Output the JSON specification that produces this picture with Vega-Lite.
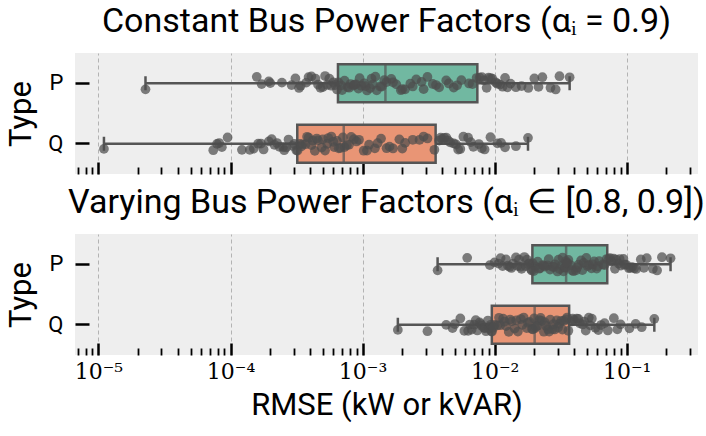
{
  "$schema": "https://vega.github.io/schema/vega-lite/v6.json",
  "padding": {"left": 5, "top": 5, "right": 0, "bottom": 8},
  "spacing": 10,
  "config": {
    "view": {"fill": "#eeeeee", "stroke": null},
    "font": "Roboto",
    "title": {"font": "Roboto", "fontSize": 34, "fontWeight": "normal", "color": "#000000", "baseline": "alphabetic", "offset": 14, "anchor": "middle"}
  },
  "datasets": {
    "rmse": [
      {"c":"C","t":"P","v":2.27e-5},{"c":"C","t":"P","v":1.58e-4},{"c":"C","t":"P","v":1.72e-4},{"c":"C","t":"P","v":1.95e-4},
      {"c":"C","t":"P","v":2.45e-4},{"c":"C","t":"P","v":2.9e-4},{"c":"C","t":"P","v":3.1e-4},{"c":"C","t":"P","v":3.4e-4},
      {"c":"C","t":"P","v":3.75e-4},{"c":"C","t":"P","v":4.1e-4},{"c":"C","t":"P","v":4.4e-4},{"c":"C","t":"P","v":4.8e-4},
      {"c":"C","t":"P","v":5.2e-4},{"c":"C","t":"P","v":5.6e-4},{"c":"C","t":"P","v":6.0e-4},{"c":"C","t":"P","v":6.4e-4},
      {"c":"C","t":"P","v":6.55e-4},{"c":"C","t":"P","v":6.9e-4},{"c":"C","t":"P","v":7.3e-4},{"c":"C","t":"P","v":7.7e-4},
      {"c":"C","t":"P","v":8.1e-4},{"c":"C","t":"P","v":8.5e-4},{"c":"C","t":"P","v":8.9e-4},{"c":"C","t":"P","v":9.3e-4},
      {"c":"C","t":"P","v":9.8e-4},{"c":"C","t":"P","v":1.03e-3},{"c":"C","t":"P","v":1.08e-3},{"c":"C","t":"P","v":1.14e-3},
      {"c":"C","t":"P","v":1.2e-3},{"c":"C","t":"P","v":1.28e-3},{"c":"C","t":"P","v":1.36e-3},{"c":"C","t":"P","v":1.46e-3},
      {"c":"C","t":"P","v":1.52e-3},{"c":"C","t":"P","v":1.65e-3},{"c":"C","t":"P","v":1.8e-3},{"c":"C","t":"P","v":1.95e-3},
      {"c":"C","t":"P","v":2.1e-3},{"c":"C","t":"P","v":2.3e-3},{"c":"C","t":"P","v":2.55e-3},{"c":"C","t":"P","v":2.8e-3},
      {"c":"C","t":"P","v":3.1e-3},{"c":"C","t":"P","v":3.4e-3},{"c":"C","t":"P","v":3.8e-3},{"c":"C","t":"P","v":4.3e-3},
      {"c":"C","t":"P","v":4.9e-3},{"c":"C","t":"P","v":5.6e-3},{"c":"C","t":"P","v":6.4e-3},{"c":"C","t":"P","v":7.3e-3},
      {"c":"C","t":"P","v":7.7e-3},{"c":"C","t":"P","v":8.3e-3},{"c":"C","t":"P","v":9.0e-3},{"c":"C","t":"P","v":9.6e-3},
      {"c":"C","t":"P","v":1.02e-2},{"c":"C","t":"P","v":1.1e-2},{"c":"C","t":"P","v":1.2e-2},{"c":"C","t":"P","v":1.32e-2},
      {"c":"C","t":"P","v":1.45e-2},{"c":"C","t":"P","v":1.6e-2},{"c":"C","t":"P","v":1.8e-2},{"c":"C","t":"P","v":2.0e-2},
      {"c":"C","t":"P","v":2.3e-2},{"c":"C","t":"P","v":2.65e-2},{"c":"C","t":"P","v":3.1e-2},{"c":"C","t":"P","v":3.7e-2},
      {"c":"C","t":"P","v":3.9e-4},{"c":"C","t":"P","v":4.6e-4},{"c":"C","t":"P","v":5.0e-4},{"c":"C","t":"P","v":5.4e-4},
      {"c":"C","t":"P","v":5.8e-4},{"c":"C","t":"P","v":6.2e-4},{"c":"C","t":"P","v":2.0e-4},{"c":"C","t":"P","v":3.3e-4},
      {"c":"C","t":"P","v":7.0e-4},{"c":"C","t":"P","v":7.9e-4},{"c":"C","t":"P","v":8.7e-4},{"c":"C","t":"P","v":9.5e-4},
      {"c":"C","t":"P","v":1.05e-3},{"c":"C","t":"P","v":1.17e-3},{"c":"C","t":"P","v":1.25e-3},{"c":"C","t":"P","v":1.4e-3},
      {"c":"C","t":"P","v":1.7e-3},{"c":"C","t":"P","v":2.0e-3},{"c":"C","t":"P","v":2.4e-3},{"c":"C","t":"P","v":2.9e-3},
      {"c":"C","t":"P","v":3.6e-3},{"c":"C","t":"P","v":4.5e-3},{"c":"C","t":"P","v":5.2e-3},{"c":"C","t":"P","v":6.8e-3},
      {"c":"C","t":"P","v":8.0e-3},{"c":"C","t":"P","v":8.7e-3},{"c":"C","t":"P","v":9.3e-3},{"c":"C","t":"P","v":1.05e-2},
      {"c":"C","t":"P","v":1.15e-2},{"c":"C","t":"P","v":1.25e-2},{"c":"C","t":"P","v":2.15e-2},{"c":"C","t":"P","v":2.9e-2},

      {"c":"C","t":"Q","v":1.1e-5},{"c":"C","t":"Q","v":7.4e-5},{"c":"C","t":"Q","v":7.9e-5},{"c":"C","t":"Q","v":8.6e-5},
      {"c":"C","t":"Q","v":9.5e-5},{"c":"C","t":"Q","v":1.22e-4},{"c":"C","t":"Q","v":1.5e-4},{"c":"C","t":"Q","v":1.62e-4},
      {"c":"C","t":"Q","v":1.78e-4},{"c":"C","t":"Q","v":1.95e-4},{"c":"C","t":"Q","v":2.15e-4},{"c":"C","t":"Q","v":2.35e-4},
      {"c":"C","t":"Q","v":2.55e-4},{"c":"C","t":"Q","v":2.75e-4},{"c":"C","t":"Q","v":2.95e-4},{"c":"C","t":"Q","v":3.15e-4},
      {"c":"C","t":"Q","v":3.22e-4},{"c":"C","t":"Q","v":3.35e-4},{"c":"C","t":"Q","v":3.5e-4},{"c":"C","t":"Q","v":3.7e-4},
      {"c":"C","t":"Q","v":3.9e-4},{"c":"C","t":"Q","v":4.1e-4},{"c":"C","t":"Q","v":4.35e-4},{"c":"C","t":"Q","v":4.6e-4},
      {"c":"C","t":"Q","v":4.9e-4},{"c":"C","t":"Q","v":5.2e-4},{"c":"C","t":"Q","v":5.5e-4},{"c":"C","t":"Q","v":5.8e-4},
      {"c":"C","t":"Q","v":6.1e-4},{"c":"C","t":"Q","v":6.4e-4},{"c":"C","t":"Q","v":6.8e-4},{"c":"C","t":"Q","v":7.1e-4},
      {"c":"C","t":"Q","v":7.3e-4},{"c":"C","t":"Q","v":7.9e-4},{"c":"C","t":"Q","v":8.6e-4},{"c":"C","t":"Q","v":9.4e-4},
      {"c":"C","t":"Q","v":1.02e-3},{"c":"C","t":"Q","v":1.12e-3},{"c":"C","t":"Q","v":1.24e-3},{"c":"C","t":"Q","v":1.38e-3},
      {"c":"C","t":"Q","v":1.52e-3},{"c":"C","t":"Q","v":1.7e-3},{"c":"C","t":"Q","v":1.9e-3},{"c":"C","t":"Q","v":2.1e-3},
      {"c":"C","t":"Q","v":2.4e-3},{"c":"C","t":"Q","v":2.7e-3},{"c":"C","t":"Q","v":3.1e-3},{"c":"C","t":"Q","v":3.5e-3},
      {"c":"C","t":"Q","v":3.8e-3},{"c":"C","t":"Q","v":4.0e-3},{"c":"C","t":"Q","v":4.3e-3},{"c":"C","t":"Q","v":4.6e-3},
      {"c":"C","t":"Q","v":4.9e-3},{"c":"C","t":"Q","v":5.3e-3},{"c":"C","t":"Q","v":5.8e-3},{"c":"C","t":"Q","v":6.3e-3},
      {"c":"C","t":"Q","v":6.9e-3},{"c":"C","t":"Q","v":7.6e-3},{"c":"C","t":"Q","v":8.4e-3},{"c":"C","t":"Q","v":9.3e-3},
      {"c":"C","t":"Q","v":1.05e-2},{"c":"C","t":"Q","v":1.2e-2},{"c":"C","t":"Q","v":1.45e-2},{"c":"C","t":"Q","v":1.79e-2},
      {"c":"C","t":"Q","v":8.2e-5},{"c":"C","t":"Q","v":1.4e-4},{"c":"C","t":"Q","v":1.7e-4},{"c":"C","t":"Q","v":2.05e-4},
      {"c":"C","t":"Q","v":2.25e-4},{"c":"C","t":"Q","v":2.5e-4},{"c":"C","t":"Q","v":2.65e-4},{"c":"C","t":"Q","v":3.05e-4},
      {"c":"C","t":"Q","v":3.45e-4},{"c":"C","t":"Q","v":3.8e-4},{"c":"C","t":"Q","v":4.2e-4},{"c":"C","t":"Q","v":4.5e-4},
      {"c":"C","t":"Q","v":5.0e-4},{"c":"C","t":"Q","v":5.4e-4},{"c":"C","t":"Q","v":6.0e-4},{"c":"C","t":"Q","v":6.6e-4},
      {"c":"C","t":"Q","v":7.6e-4},{"c":"C","t":"Q","v":8.2e-4},{"c":"C","t":"Q","v":9.0e-4},{"c":"C","t":"Q","v":1.08e-3},
      {"c":"C","t":"Q","v":1.3e-3},{"c":"C","t":"Q","v":1.6e-3},{"c":"C","t":"Q","v":2.0e-3},{"c":"C","t":"Q","v":2.9e-3},
      {"c":"C","t":"Q","v":3.9e-3},{"c":"C","t":"Q","v":4.15e-3},{"c":"C","t":"Q","v":4.45e-3},{"c":"C","t":"Q","v":5.1e-3},
      {"c":"C","t":"Q","v":5.5e-3},{"c":"C","t":"Q","v":6.6e-3},{"c":"C","t":"Q","v":8.0e-3},{"c":"C","t":"Q","v":1.12e-2},

      {"c":"V","t":"P","v":3.7e-3},{"c":"V","t":"P","v":6.2e-3},{"c":"V","t":"P","v":9.2e-3},{"c":"V","t":"P","v":1.0e-2},
      {"c":"V","t":"P","v":1.07e-2},{"c":"V","t":"P","v":1.15e-2},{"c":"V","t":"P","v":1.22e-2},{"c":"V","t":"P","v":1.3e-2},
      {"c":"V","t":"P","v":1.38e-2},{"c":"V","t":"P","v":1.45e-2},{"c":"V","t":"P","v":1.53e-2},{"c":"V","t":"P","v":1.6e-2},
      {"c":"V","t":"P","v":1.68e-2},{"c":"V","t":"P","v":1.76e-2},{"c":"V","t":"P","v":1.84e-2},{"c":"V","t":"P","v":1.91e-2},
      {"c":"V","t":"P","v":0.0194},{"c":"V","t":"P","v":0.0203},{"c":"V","t":"P","v":0.0212},{"c":"V","t":"P","v":0.0221},
      {"c":"V","t":"P","v":0.0231},{"c":"V","t":"P","v":0.0241},{"c":"V","t":"P","v":0.0252},{"c":"V","t":"P","v":0.0263},
      {"c":"V","t":"P","v":0.0275},{"c":"V","t":"P","v":0.0287},{"c":"V","t":"P","v":0.0299},{"c":"V","t":"P","v":0.0311},
      {"c":"V","t":"P","v":0.0322},{"c":"V","t":"P","v":0.0332},{"c":"V","t":"P","v":0.0340},{"c":"V","t":"P","v":0.0346},
      {"c":"V","t":"P","v":0.0350},{"c":"V","t":"P","v":0.0362},{"c":"V","t":"P","v":0.0378},{"c":"V","t":"P","v":0.0395},
      {"c":"V","t":"P","v":0.0413},{"c":"V","t":"P","v":0.0432},{"c":"V","t":"P","v":0.0452},{"c":"V","t":"P","v":0.0473},
      {"c":"V","t":"P","v":0.0495},{"c":"V","t":"P","v":0.0518},{"c":"V","t":"P","v":0.0542},{"c":"V","t":"P","v":0.0567},
      {"c":"V","t":"P","v":0.0593},{"c":"V","t":"P","v":0.0620},{"c":"V","t":"P","v":0.0660},{"c":"V","t":"P","v":0.0706},
      {"c":"V","t":"P","v":0.0734},{"c":"V","t":"P","v":0.0765},{"c":"V","t":"P","v":0.0798},{"c":"V","t":"P","v":0.0832},
      {"c":"V","t":"P","v":0.0868},{"c":"V","t":"P","v":0.0905},{"c":"V","t":"P","v":0.0945},{"c":"V","t":"P","v":0.099},
      {"c":"V","t":"P","v":0.104},{"c":"V","t":"P","v":0.110},{"c":"V","t":"P","v":0.118},{"c":"V","t":"P","v":0.128},
      {"c":"V","t":"P","v":0.142},{"c":"V","t":"P","v":0.158},{"c":"V","t":"P","v":0.185},{"c":"V","t":"P","v":0.215},
      {"c":"V","t":"P","v":1.11e-2},{"c":"V","t":"P","v":1.26e-2},{"c":"V","t":"P","v":1.34e-2},{"c":"V","t":"P","v":1.49e-2},
      {"c":"V","t":"P","v":1.57e-2},{"c":"V","t":"P","v":1.72e-2},{"c":"V","t":"P","v":1.8e-2},{"c":"V","t":"P","v":1.88e-2},
      {"c":"V","t":"P","v":0.0198},{"c":"V","t":"P","v":0.0217},{"c":"V","t":"P","v":0.0236},{"c":"V","t":"P","v":0.0257},
      {"c":"V","t":"P","v":0.0281},{"c":"V","t":"P","v":0.0305},{"c":"V","t":"P","v":0.0327},{"c":"V","t":"P","v":0.0343},
      {"c":"V","t":"P","v":0.0356},{"c":"V","t":"P","v":0.0386},{"c":"V","t":"P","v":0.0422},{"c":"V","t":"P","v":0.0462},
      {"c":"V","t":"P","v":0.0506},{"c":"V","t":"P","v":0.0555},{"c":"V","t":"P","v":0.0606},{"c":"V","t":"P","v":0.0680},
      {"c":"V","t":"P","v":0.0750},{"c":"V","t":"P","v":0.0815},{"c":"V","t":"P","v":0.0885},{"c":"V","t":"P","v":0.0965},
      {"c":"V","t":"P","v":0.107},{"c":"V","t":"P","v":0.114},{"c":"V","t":"P","v":0.135},{"c":"V","t":"P","v":0.170},

      {"c":"V","t":"Q","v":1.85e-3},{"c":"V","t":"Q","v":3.1e-3},{"c":"V","t":"Q","v":4.3e-3},{"c":"V","t":"Q","v":4.8e-3},
      {"c":"V","t":"Q","v":5.5e-3},{"c":"V","t":"Q","v":6.3e-3},{"c":"V","t":"Q","v":6.7e-3},{"c":"V","t":"Q","v":7.0e-3},
      {"c":"V","t":"Q","v":7.4e-3},{"c":"V","t":"Q","v":7.7e-3},{"c":"V","t":"Q","v":8.0e-3},{"c":"V","t":"Q","v":8.3e-3},
      {"c":"V","t":"Q","v":8.6e-3},{"c":"V","t":"Q","v":8.9e-3},{"c":"V","t":"Q","v":9.2e-3},{"c":"V","t":"Q","v":9.45e-3},
      {"c":"V","t":"Q","v":9.55e-3},{"c":"V","t":"Q","v":0.0100},{"c":"V","t":"Q","v":0.0105},{"c":"V","t":"Q","v":0.0110},
      {"c":"V","t":"Q","v":0.0116},{"c":"V","t":"Q","v":0.0122},{"c":"V","t":"Q","v":0.0128},{"c":"V","t":"Q","v":0.0135},
      {"c":"V","t":"Q","v":0.0142},{"c":"V","t":"Q","v":0.0150},{"c":"V","t":"Q","v":0.0158},{"c":"V","t":"Q","v":0.0166},
      {"c":"V","t":"Q","v":0.0175},{"c":"V","t":"Q","v":0.0184},{"c":"V","t":"Q","v":0.0192},{"c":"V","t":"Q","v":0.0199},
      {"c":"V","t":"Q","v":0.0203},{"c":"V","t":"Q","v":0.0211},{"c":"V","t":"Q","v":0.0219},{"c":"V","t":"Q","v":0.0227},
      {"c":"V","t":"Q","v":0.0236},{"c":"V","t":"Q","v":0.0245},{"c":"V","t":"Q","v":0.0254},{"c":"V","t":"Q","v":0.0264},
      {"c":"V","t":"Q","v":0.0274},{"c":"V","t":"Q","v":0.0285},{"c":"V","t":"Q","v":0.0296},{"c":"V","t":"Q","v":0.0308},
      {"c":"V","t":"Q","v":0.0320},{"c":"V","t":"Q","v":0.0333},{"c":"V","t":"Q","v":0.0347},{"c":"V","t":"Q","v":0.0362},
      {"c":"V","t":"Q","v":0.0381},{"c":"V","t":"Q","v":0.0400},{"c":"V","t":"Q","v":0.0420},{"c":"V","t":"Q","v":0.0442},
      {"c":"V","t":"Q","v":0.0465},{"c":"V","t":"Q","v":0.0490},{"c":"V","t":"Q","v":0.0517},{"c":"V","t":"Q","v":0.0545},
      {"c":"V","t":"Q","v":0.0580},{"c":"V","t":"Q","v":0.0640},{"c":"V","t":"Q","v":0.0720},{"c":"V","t":"Q","v":0.0800},
      {"c":"V","t":"Q","v":0.0900},{"c":"V","t":"Q","v":0.1050},{"c":"V","t":"Q","v":0.1300},{"c":"V","t":"Q","v":0.1620},
      {"c":"V","t":"Q","v":5.0e-3},{"c":"V","t":"Q","v":5.9e-3},{"c":"V","t":"Q","v":6.5e-3},{"c":"V","t":"Q","v":7.2e-3},
      {"c":"V","t":"Q","v":7.85e-3},{"c":"V","t":"Q","v":8.45e-3},{"c":"V","t":"Q","v":9.05e-3},{"c":"V","t":"Q","v":9.35e-3},
      {"c":"V","t":"Q","v":0.0098},{"c":"V","t":"Q","v":0.0108},{"c":"V","t":"Q","v":0.0119},{"c":"V","t":"Q","v":0.0131},
      {"c":"V","t":"Q","v":0.0146},{"c":"V","t":"Q","v":0.0162},{"c":"V","t":"Q","v":0.0179},{"c":"V","t":"Q","v":0.0195},
      {"c":"V","t":"Q","v":0.0207},{"c":"V","t":"Q","v":0.0223},{"c":"V","t":"Q","v":0.0240},{"c":"V","t":"Q","v":0.0259},
      {"c":"V","t":"Q","v":0.0279},{"c":"V","t":"Q","v":0.0302},{"c":"V","t":"Q","v":0.0326},{"c":"V","t":"Q","v":0.0354},
      {"c":"V","t":"Q","v":0.0390},{"c":"V","t":"Q","v":0.0431},{"c":"V","t":"Q","v":0.0477},{"c":"V","t":"Q","v":0.0530},
      {"c":"V","t":"Q","v":0.0610},{"c":"V","t":"Q","v":0.0680},{"c":"V","t":"Q","v":0.0850},{"c":"V","t":"Q","v":0.1170}
    ]
  },
  "vconcat": [
    {
      "title": {"text": "Constant Bus Power Factors (αᵢ = 0.9)"},
      "width": 623,
      "height": 121,
      "resolve": {"scale": {"y": "independent"}},
      "encoding": {
        "x": {
          "field": "v", "type": "quantitative",
          "scale": {"type": "log", "domain": [6.64e-6, 0.347], "nice": false},
          "axis": {
            "title": null,
            "values": [7e-6,8e-6,9e-6,1e-5,2e-5,3e-5,4e-5,5e-5,6e-5,7e-5,8e-5,9e-5,1e-4,2e-4,3e-4,4e-4,5e-4,6e-4,7e-4,8e-4,9e-4,1e-3,2e-3,3e-3,4e-3,5e-3,6e-3,7e-3,8e-3,9e-3,1e-2,2e-2,3e-2,4e-2,5e-2,6e-2,7e-2,8e-2,9e-2,1e-1,2e-1,3e-1],
            "domain": false,
            "grid": true,
            "gridColor": "#b3b3b3",
            "gridDash": [4, 3],
            "gridWidth": 1,
            "gridOpacity": {"condition": {"test": "abs(log(datum.value)/LN10 - round(log(datum.value)/LN10)) < 0.001", "value": 1}, "value": 0},
            "tickColor": "#000000",
            "tickSize": {"condition": {"test": "abs(log(datum.value)/LN10 - round(log(datum.value)/LN10)) < 0.001", "value": -12}, "value": -7},
            "tickWidth": {"condition": {"test": "abs(log(datum.value)/LN10 - round(log(datum.value)/LN10)) < 0.001", "value": 2.5}, "value": 1.8},
            "labels": false
          }
        }
      },
      "layer": [
        {
          "data": {"name": "rmse"},
          "transform": [{"filter": "datum.c == 'C'"}],
          "mark": {"type": "boxplot", "extent": "min-max", "size": 38,
            "box": {"stroke": "#555555", "strokeWidth": 2.5},
            "median": {"color": "#555555", "thickness": 2.5},
            "rule": {"stroke": "#555555", "strokeWidth": 2.5},
            "ticks": {"color": "#555555", "size": 14, "thickness": 2.5}},
          "encoding": {
            "y": {
              "field": "t", "type": "nominal",
              "scale": {"domain": ["P", "Q"], "paddingInner": 0, "paddingOuter": 0},
              "axis": {
                "title": "Type", "titleFont": "Roboto", "titleFontSize": 31, "titleFontWeight": "normal", "titleColor": "#000000", "titlePadding": 10,
                "labelFont": "Roboto", "labelFontSize": 22, "labelColor": "#000000", "labelPadding": 26, "labelAngle": 0,
                "tickSize": -14, "tickWidth": 2.5, "tickColor": "#000000", "domain": false, "grid": false
              }
            },
            "color": {"field": "t", "type": "nominal", "scale": {"domain": ["P", "Q"], "range": ["#71b8a1", "#e99575"]}, "legend": null}
          }
        },
        {
          "data": {"name": "rmse"},
          "transform": [
            {"filter": "datum.c == 'C'"},
            {"window": [{"op": "row_number", "as": "i"}]},
            {"calculate": "(abs(sin(datum.i * 12.9898) * 43758.5453) % 1) - 0.5", "as": "j"}
          ],
          "mark": {"type": "circle", "size": 95, "color": "#4d4d4d", "opacity": 0.72},
          "encoding": {
            "y": {"field": "t", "type": "nominal", "scale": {"domain": ["P", "Q"], "paddingInner": 0, "paddingOuter": 0}, "axis": null},
            "yOffset": {"field": "j", "type": "quantitative", "scale": {"domain": [-0.5, 0.5], "range": [23, 37.5]}}
          }
        },
        {
          "data": {"values": [{}]},
          "mark": {"type": "rule", "color": "#bdbdbd", "strokeWidth": 3},
          "encoding": {
            "x": {"datum": 1e-5, "type": "quantitative"},
            "x2": {"datum": 0.1},
            "y": {"datum": 0, "type": "quantitative", "scale": {"domain": [0, 1]}, "axis": null}
          }
        }
      ]
    },
    {
      "title": {"text": "Varying Bus Power Factors (αᵢ ∈ [0.8, 0.9])"},
      "width": 623,
      "height": 121,
      "resolve": {"scale": {"y": "independent"}},
      "encoding": {
        "x": {
          "field": "v", "type": "quantitative",
          "scale": {"type": "log", "domain": [6.64e-6, 0.347], "nice": false},
          "axis": {
            "title": "RMSE (kW or kVAR)", "titleFont": "Roboto", "titleFontSize": 31, "titleFontWeight": "normal", "titleColor": "#000000", "titlePadding": 3,
            "values": [7e-6,8e-6,9e-6,1e-5,2e-5,3e-5,4e-5,5e-5,6e-5,7e-5,8e-5,9e-5,1e-4,2e-4,3e-4,4e-4,5e-4,6e-4,7e-4,8e-4,9e-4,1e-3,2e-3,3e-3,4e-3,5e-3,6e-3,7e-3,8e-3,9e-3,1e-2,2e-2,3e-2,4e-2,5e-2,6e-2,7e-2,8e-2,9e-2,1e-1,2e-1,3e-1],
            "domain": false,
            "grid": true,
            "gridColor": "#b3b3b3",
            "gridDash": [4, 3],
            "gridWidth": 1,
            "gridOpacity": {"condition": {"test": "abs(log(datum.value)/LN10 - round(log(datum.value)/LN10)) < 0.001", "value": 1}, "value": 0},
            "tickColor": "#000000",
            "tickSize": {"condition": {"test": "abs(log(datum.value)/LN10 - round(log(datum.value)/LN10)) < 0.001", "value": -12}, "value": -7},
            "tickWidth": {"condition": {"test": "abs(log(datum.value)/LN10 - round(log(datum.value)/LN10)) < 0.001", "value": 2.5}, "value": 1.8},
            "labels": true,
            "labelExpr": "datum.value > 0.09 && datum.value < 0.11 ? '10⁻¹' : datum.value > 0.009 && datum.value < 0.011 ? '10⁻²' : datum.value > 0.0009 && datum.value < 0.0011 ? '10⁻³' : datum.value > 0.00009 && datum.value < 0.00011 ? '10⁻⁴' : datum.value > 0.000009 && datum.value < 0.000011 ? '10⁻⁵' : ''",
            "labelFont": "DejaVu Serif",
            "labelFontSize": 22,
            "labelColor": "#000000",
            "labelPadding": 18,
            "labelFlush": false,
            "labelOverlap": false,
            "labelBound": false
          }
        }
      },
      "layer": [
        {
          "data": {"name": "rmse"},
          "transform": [{"filter": "datum.c == 'V'"}],
          "mark": {"type": "boxplot", "extent": "min-max", "size": 38,
            "box": {"stroke": "#555555", "strokeWidth": 2.5},
            "median": {"color": "#555555", "thickness": 2.5},
            "rule": {"stroke": "#555555", "strokeWidth": 2.5},
            "ticks": {"color": "#555555", "size": 14, "thickness": 2.5}},
          "encoding": {
            "y": {
              "field": "t", "type": "nominal",
              "scale": {"domain": ["P", "Q"], "paddingInner": 0, "paddingOuter": 0},
              "axis": {
                "title": "Type", "titleFont": "Roboto", "titleFontSize": 31, "titleFontWeight": "normal", "titleColor": "#000000", "titlePadding": 10,
                "labelFont": "Roboto", "labelFontSize": 22, "labelColor": "#000000", "labelPadding": 26, "labelAngle": 0,
                "tickSize": -14, "tickWidth": 2.5, "tickColor": "#000000", "domain": false, "grid": false
              }
            },
            "color": {"field": "t", "type": "nominal", "scale": {"domain": ["P", "Q"], "range": ["#71b8a1", "#e99575"]}, "legend": null}
          }
        },
        {
          "data": {"name": "rmse"},
          "transform": [
            {"filter": "datum.c == 'V'"},
            {"window": [{"op": "row_number", "as": "i"}]},
            {"calculate": "(abs(sin(datum.i * 12.9898) * 43758.5453) % 1) - 0.5", "as": "j"}
          ],
          "mark": {"type": "circle", "size": 95, "color": "#4d4d4d", "opacity": 0.72},
          "encoding": {
            "y": {"field": "t", "type": "nominal", "scale": {"domain": ["P", "Q"], "paddingInner": 0, "paddingOuter": 0}, "axis": null},
            "yOffset": {"field": "j", "type": "quantitative", "scale": {"domain": [-0.5, 0.5], "range": [23, 37.5]}}
          }
        },
        {
          "data": {"values": [{}]},
          "mark": {"type": "rule", "color": "#bdbdbd", "strokeWidth": 3},
          "encoding": {
            "x": {"datum": 1e-5, "type": "quantitative"},
            "x2": {"datum": 0.1},
            "y": {"datum": 0, "type": "quantitative", "scale": {"domain": [0, 1]}, "axis": null}
          }
        }
      ]
    }
  ]
}
